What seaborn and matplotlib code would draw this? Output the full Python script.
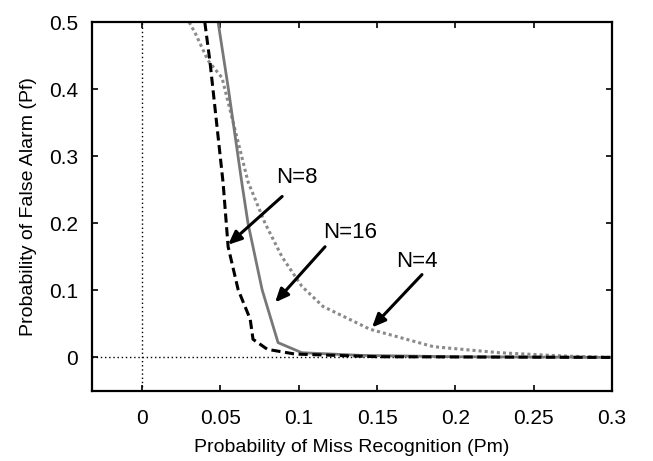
import matplotlib as mpl
import matplotlib.pyplot as plt
import pandas as pd
import seaborn as sns

mpl.use("agg")

# curves (Pm, Pf)
pm_n4 = [0.030, 0.0338, 0.042, 0.051, 0.0676, 0.0785, 0.0893, 0.102, 0.1155, 0.1455, 0.186, 0.228, 0.270, 0.300]
pf_n4 = [0.500, 0.484, 0.443, 0.417, 0.262, 0.200, 0.150, 0.106, 0.076, 0.042, 0.016, 0.007, 0.002, 0.000]

pm_n8 = [0.040, 0.0434, 0.0517, 0.0549, 0.0613, 0.069, 0.0708, 0.080, 0.0976, 0.150, 0.300]
pf_n8 = [0.500, 0.439, 0.260, 0.165, 0.101, 0.057, 0.027, 0.012, 0.005, 0.001, 0.000]

pm_n16 = [0.0485, 0.0549, 0.0638, 0.0676, 0.0766, 0.0868, 0.102, 0.140, 0.200, 0.300]
pf_n16 = [0.500, 0.403, 0.258, 0.200, 0.101, 0.022, 0.007, 0.003, 0.001, 0.000]

labels = ["N=8", "N=16", "N=4"]
text_pos = [(0.099, 0.268), (0.1327, 0.186), (0.1755, 0.143)]
arrow_tail = [(0.0894, 0.240), (0.1168, 0.165), (0.1787, 0.1235)]
arrow_head = [(0.0549, 0.168), (0.0849, 0.082), (0.1468, 0.0446)]

sns.set_style("ticks", rc={"text.color": "black", "axes.labelcolor": "black",
                           "xtick.color": "black", "ytick.color": "black",
                           "axes.edgecolor": "black"})
plt.rcParams["font.family"] = ["Liberation Sans", "DejaVu Sans"]

fig = plt.figure(figsize=(6.53, 4.61), dpi=100)
ax = fig.add_axes([0.141, 0.152, 0.796, 0.800])

ax.axvline(0, color="black", lw=1, ls=(0, (1, 2)))
ax.axhline(0, color="black", lw=1, ls=(0, (1, 2)))

n4 = pd.DataFrame({"Pm": pm_n4, "Pf": pf_n4})
n8 = pd.DataFrame({"Pm": pm_n8, "Pf": pf_n8})
n16 = pd.DataFrame({"Pm": pm_n16, "Pf": pf_n16})

sns.lineplot(data=n4, x="Pm", y="Pf", ax=ax, sort=False, color="#8a8a8a",
             lw=2.2, ls=(0, (1, 1)))
sns.lineplot(data=n16, x="Pm", y="Pf", ax=ax, sort=False, color="#777777", lw=2.0)
sns.lineplot(data=n8, x="Pm", y="Pf", ax=ax, sort=False, color="black",
             lw=2.2, ls=(0, (3, 1.5)))

for lab, tp, tail, head in zip(labels, text_pos, arrow_tail, arrow_head):
    ax.text(tp[0], tp[1], lab, fontsize=16, ha="center", va="center")
    ax.annotate("", xy=head, xytext=tail,
                arrowprops=dict(arrowstyle="-|>,head_length=0.8,head_width=0.35",
                                color="black", lw=2.2, shrinkA=0, shrinkB=0))

ax.set_xlim(-0.032, 0.3)
ax.set_ylim(-0.05, 0.5)
ax.set_xticks([0, 0.05, 0.1, 0.15, 0.2, 0.25, 0.3])
ax.set_xticklabels(["0", "0.05", "0.1", "0.15", "0.2", "0.25", "0.3"])
ax.set_yticks([0, 0.1, 0.2, 0.3, 0.4, 0.5])
ax.set_yticklabels(["0", "0.1", "0.2", "0.3", "0.4", "0.5"])
ax.tick_params(direction="in", top=True, right=True, length=4, width=1.2,
               labelsize=15)
ax.tick_params(axis="x", pad=13)
ax.tick_params(axis="y", pad=10)
for sp in ax.spines.values():
    sp.set_linewidth(1.6)

ax.set_xlabel("Probability of Miss Recognition (Pm)", fontsize=14, labelpad=8)
ax.set_ylabel("Probability of False Alarm (Pf)", fontsize=14, labelpad=9)

fig.savefig("out.png", dpi=100)
